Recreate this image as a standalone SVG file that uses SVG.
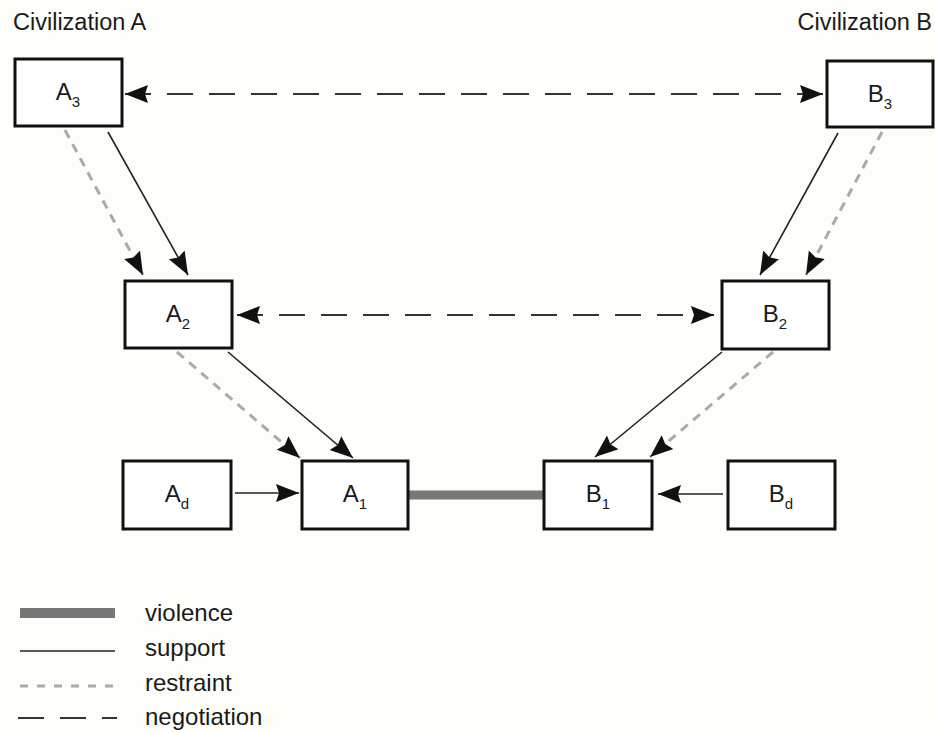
<svg xmlns="http://www.w3.org/2000/svg" width="935" height="733" viewBox="0 0 935 733">
<style>
.bg{fill:#fdfdf9}
.box{fill:#ffffff;stroke:#111;stroke-width:3}
.lbl{font-family:"Liberation Sans",Arial,sans-serif;font-size:24px;fill:#1a1a1a;text-anchor:middle}
.sub{font-size:15px}
.ttl{font-family:"Liberation Sans",Arial,sans-serif;font-size:23.5px;fill:#1a1a1a}
.leg{font-family:"Liberation Sans",Arial,sans-serif;font-size:24px;fill:#1a1a1a}
.sup{stroke:#222;stroke-width:1.6;fill:none}
.res{stroke:#aaa;stroke-width:3;stroke-dasharray:9 7;fill:none}
.neg{stroke:#333;stroke-width:2;stroke-dasharray:26 16;fill:none}
.vio{stroke:#777;stroke-width:9;fill:none}
</style>
<defs>
<marker id="ah" markerUnits="userSpaceOnUse" markerWidth="24" markerHeight="20" viewBox="0 0 24 20" refX="23" refY="10" orient="auto-start-reverse">
<path d="M0,1 L23,10 L0,19 L3,10 Z" fill="#111"/>
</marker>
</defs>
<rect class="bg" x="0" y="0" width="935" height="733"/>
<text class="ttl" x="13" y="30">Civilization A</text>
<text class="ttl" x="932" y="30" text-anchor="end">Civilization B</text>
<g id="connectors">
<line class="vio" x1="408" y1="495" x2="544" y2="495"/>
<line class="neg" x1="125" y1="94" x2="823" y2="94" marker-start="url(#ah)" marker-end="url(#ah)"/>
<line class="neg" x1="237" y1="315" x2="714" y2="315" marker-start="url(#ah)" marker-end="url(#ah)"/>
<line class="res" x1="65" y1="130" x2="143" y2="275" marker-end="url(#ah)"/>
<line class="sup" x1="108" y1="132" x2="188" y2="275" marker-end="url(#ah)"/>
<line class="sup" x1="838" y1="133" x2="760" y2="275" marker-end="url(#ah)"/>
<line class="res" x1="882" y1="132" x2="806" y2="275" marker-end="url(#ah)"/>
<line class="res" x1="177" y1="352" x2="300" y2="458" marker-end="url(#ah)"/>
<line class="sup" x1="228" y1="352" x2="353" y2="458" marker-end="url(#ah)"/>
<line class="sup" x1="722" y1="352" x2="595" y2="457" marker-end="url(#ah)"/>
<line class="res" x1="773" y1="352" x2="650" y2="457" marker-end="url(#ah)"/>
<line class="sup" x1="235" y1="493" x2="299" y2="493" marker-end="url(#ah)"/>
<line class="sup" x1="723" y1="494" x2="658" y2="494" marker-end="url(#ah)"/>
</g>
<g id="A3"><rect class="box" x="15" y="59" width="107" height="67"/><text class="lbl" x="68" y="100">A<tspan class="sub" dy="7">3</tspan></text></g>
<g id="B3"><rect class="box" x="827" y="61" width="106" height="66"/><text class="lbl" x="880" y="102">B<tspan class="sub" dy="7">3</tspan></text></g>
<g id="A2"><rect class="box" x="125" y="281" width="107" height="67"/><text class="lbl" x="178" y="322">A<tspan class="sub" dy="7">2</tspan></text></g>
<g id="B2"><rect class="box" x="722" y="281" width="107" height="68"/><text class="lbl" x="775" y="322">B<tspan class="sub" dy="7">2</tspan></text></g>
<g id="Ad"><rect class="box" x="123" y="461" width="108" height="68"/><text class="lbl" x="177" y="502">A<tspan class="sub" dy="7">d</tspan></text></g>
<g id="A1"><rect class="box" x="302" y="461" width="106" height="68"/><text class="lbl" x="355" y="502">A<tspan class="sub" dy="7">1</tspan></text></g>
<g id="B1"><rect class="box" x="544" y="461" width="108" height="68"/><text class="lbl" x="598" y="502">B<tspan class="sub" dy="7">1</tspan></text></g>
<g id="Bd"><rect class="box" x="728" y="461" width="107" height="68"/><text class="lbl" x="781" y="502">B<tspan class="sub" dy="7">d</tspan></text></g>
<g id="legend">
<line class="vio" x1="20" y1="613" x2="115" y2="613" style="stroke-width:10"/>
<text class="leg" x="145" y="621">violence</text>
<line class="sup" x1="20" y1="651" x2="115" y2="651"/>
<text class="leg" x="145" y="656">support</text>
<line class="res" x1="20" y1="686" x2="115" y2="686" style="stroke-dasharray:8 9"/>
<text class="leg" x="145" y="691">restraint</text>
<line class="neg" x1="18" y1="718" x2="117" y2="718"/>
<text class="leg" x="145" y="725">negotiation</text>
</g>
</svg>
